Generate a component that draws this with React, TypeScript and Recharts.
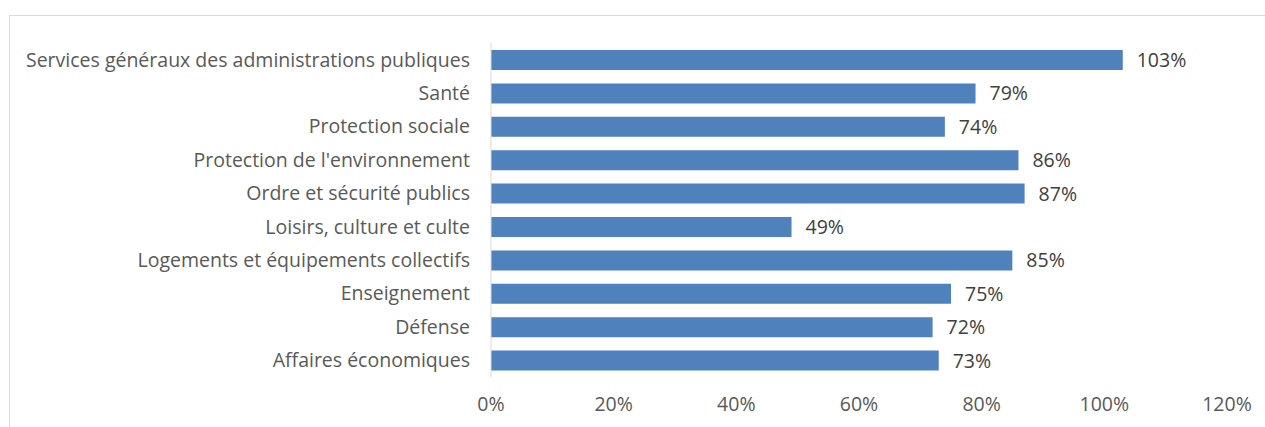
import { Bar, BarChart, LabelList, XAxis, YAxis } from 'recharts'

const categories = [
  'Services généraux des administrations publiques',
  'Santé',
  'Protection sociale',
  "Protection de l'environnement",
  'Ordre et sécurité publics',
  'Loisirs, culture et culte',
  'Logements et équipements collectifs',
  'Enseignement',
  'Défense',
  'Affaires économiques',
]
const values = [103, 79, 74, 86, 87, 49, 85, 75, 72, 73]
const xTicks = [0, 20, 40, 60, 80, 100, 120]

const data = categories.map((name, i) => ({ name, value: values[i] }))

const FONT = '"Open Sans", sans-serif'
const SIZE = 19.5
const pct = (v: number) => `${v}%`

export default function App() {
  return (
    <div
      style={{
        position: 'fixed',
        top: 0,
        left: 0,
        width: 1265,
        height: 427,
        overflow: 'hidden',
        background: '#fff',
        fontFamily: FONT,
      }}
    >
      <div
        style={{
          position: 'absolute',
          left: 9,
          top: 15,
          width: 1400,
          height: 600,
          border: '1px solid #d9d9d9',
        }}
      />
      <div style={{ position: 'absolute', left: 0, top: 0 }}>
        <BarChart
          width={1265}
          height={427}
          data={data}
          layout="vertical"
          margin={{ top: 43, right: 38, bottom: 20, left: 0 }}
          barCategoryGap="40%"
        >
          <XAxis
            type="number"
            domain={[0, 120]}
            ticks={xTicks}
            tickFormatter={pct}
            axisLine={false}
            tickLine={false}
            tickMargin={14}
            height={30}
            interval={0}
            tick={{ fill: '#595959', fontSize: SIZE, fontFamily: FONT }}
          />
          <YAxis
            type="category"
            dataKey="name"
            width={491}
            axisLine={{ stroke: '#d9d9d9' }}
            tickLine={false}
            tickMargin={15}
            interval={0}
            tick={{ fill: '#595959', fontSize: SIZE, fontFamily: FONT }}
          />
          <Bar dataKey="value" fill="#4f81bd" barSize={20} isAnimationActive={false}>
            <LabelList
              dataKey="value"
              position="right"
              offset={14}
              formatter={(v: any) => pct(Number(v))}
              fill="#404040"
              fontSize={SIZE}
              fontFamily={FONT}
            />
          </Bar>
        </BarChart>
      </div>
    </div>
  )
}
